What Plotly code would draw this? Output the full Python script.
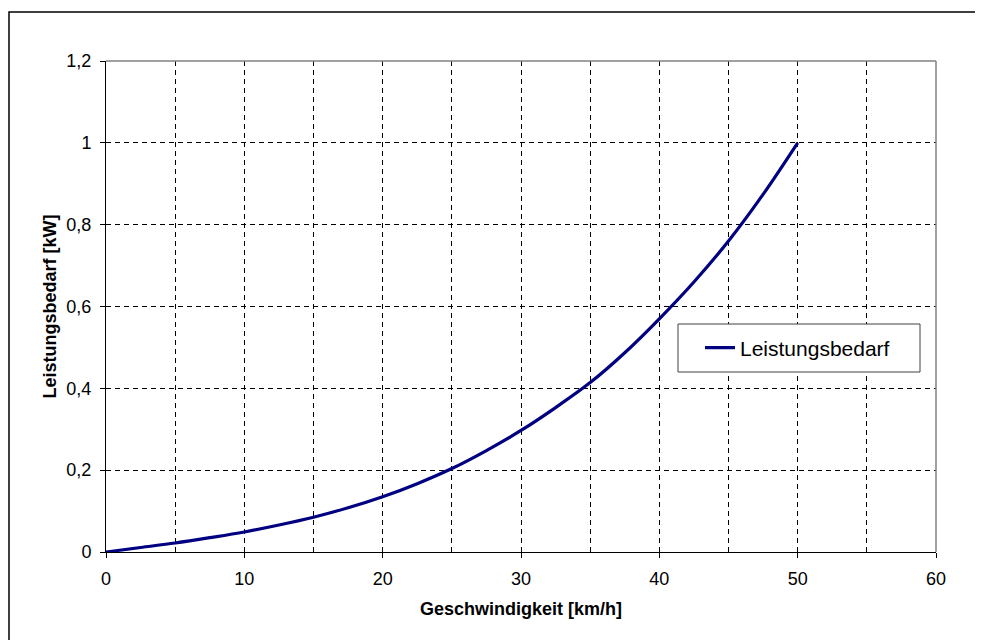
import plotly.graph_objects as go

# speed [km/h] and power demand [kW]
speed = [0, 2.5, 5, 7.5, 10, 12.5, 15, 17.5, 20, 22.5, 25, 27.5, 30, 32.5, 35, 37.5, 40, 42.5, 45, 47.5, 50]
power = [0, 0.011, 0.022, 0.035, 0.049, 0.066, 0.085, 0.108, 0.135, 0.167, 0.204, 0.248, 0.297,
         0.353, 0.414, 0.487, 0.570, 0.660, 0.760, 0.874, 1.0]

series_name = "Leistungsbedarf"
x_title = "Geschwindigkeit [km/h]"
y_title = "Leistungsbedarf [kW]"

font_family = "Arial, Liberation Sans, sans-serif"
grid_dash = "5px,4px"

# page has an 8px body margin; plot area on screen: x 106..936, y 61..552
OFF = 8
W, H = 983, 640
L, T = 106 - OFF, 61 - OFF
R, B = W - (936 - OFF), H - (552 - OFF)
pw, ph = W - L - R, H - T - B


def px_x(p):
    return (p - OFF - L) / pw


def px_y(p):
    return (H - B - (p - OFF)) / ph


fig = go.Figure()
fig.add_trace(go.Scatter(
    x=speed, y=power, mode="lines", name=series_name,
    line=dict(color="#000080", width=3.2, shape="spline"),
))

fig.update_xaxes(
    range=[0, 60], dtick=10, tick0=0,
    showline=True, linecolor="black", linewidth=1,
    ticks="outside", ticklen=5, tickcolor="black", ticklabelstandoff=5,
    showgrid=True, gridcolor="black", griddash=grid_dash, gridwidth=1,
    minor=dict(dtick=5, showgrid=True, gridcolor="black", griddash=grid_dash, gridwidth=1),
    zeroline=False,
    tickfont=dict(size=18, color="black"),
    title=dict(text="<b>" + x_title + "</b>", font=dict(size=18, color="black"), standoff=14),
)
fig.update_yaxes(
    range=[0, 1.2], dtick=0.2, tick0=0,
    showline=True, linecolor="black", linewidth=1,
    ticks="outside", ticklen=5, tickcolor="black", ticklabelstandoff=5,
    showgrid=True, gridcolor="black", griddash=grid_dash, gridwidth=1,
    zeroline=False,
    tickfont=dict(size=18, color="black"),
    title=dict(text="<b>" + y_title + "</b>", font=dict(size=18, color="black"), standoff=5),
)

# grey plot-area border on top and right, outer chart frame
fig.add_shape(type="line", xref="paper", yref="paper", x0=0, x1=1, y0=1, y1=1,
              line=dict(color="#808080", width=1.5))
fig.add_shape(type="line", xref="paper", yref="paper", x0=1, x1=1, y0=0, y1=1,
              line=dict(color="#808080", width=1.5))
fig.add_shape(type="rect", xref="paper", yref="paper",
              x0=px_x(9), x1=px_x(1000), y0=px_y(660), y1=px_y(12),
              line=dict(color="black", width=1.5))
# legend frame
fig.add_shape(type="rect", xref="paper", yref="paper",
              x0=px_x(678), x1=px_x(920), y0=px_y(372), y1=px_y(324),
              fillcolor="white", line=dict(color="#404040", width=1))

fig.update_layout(
    width=W, height=H,
    margin=dict(l=L, r=R, t=T, b=B),
    paper_bgcolor="white", plot_bgcolor="white",
    separators=",.",
    font=dict(family=font_family, color="black"),
    showlegend=True,
    legend=dict(
        x=px_x(700), y=px_y(348), xanchor="left", yanchor="middle",
        bgcolor="rgba(0,0,0,0)", borderwidth=0,
        font=dict(size=21, color="black"),
    ),
)

fig.write_html("out.html")
